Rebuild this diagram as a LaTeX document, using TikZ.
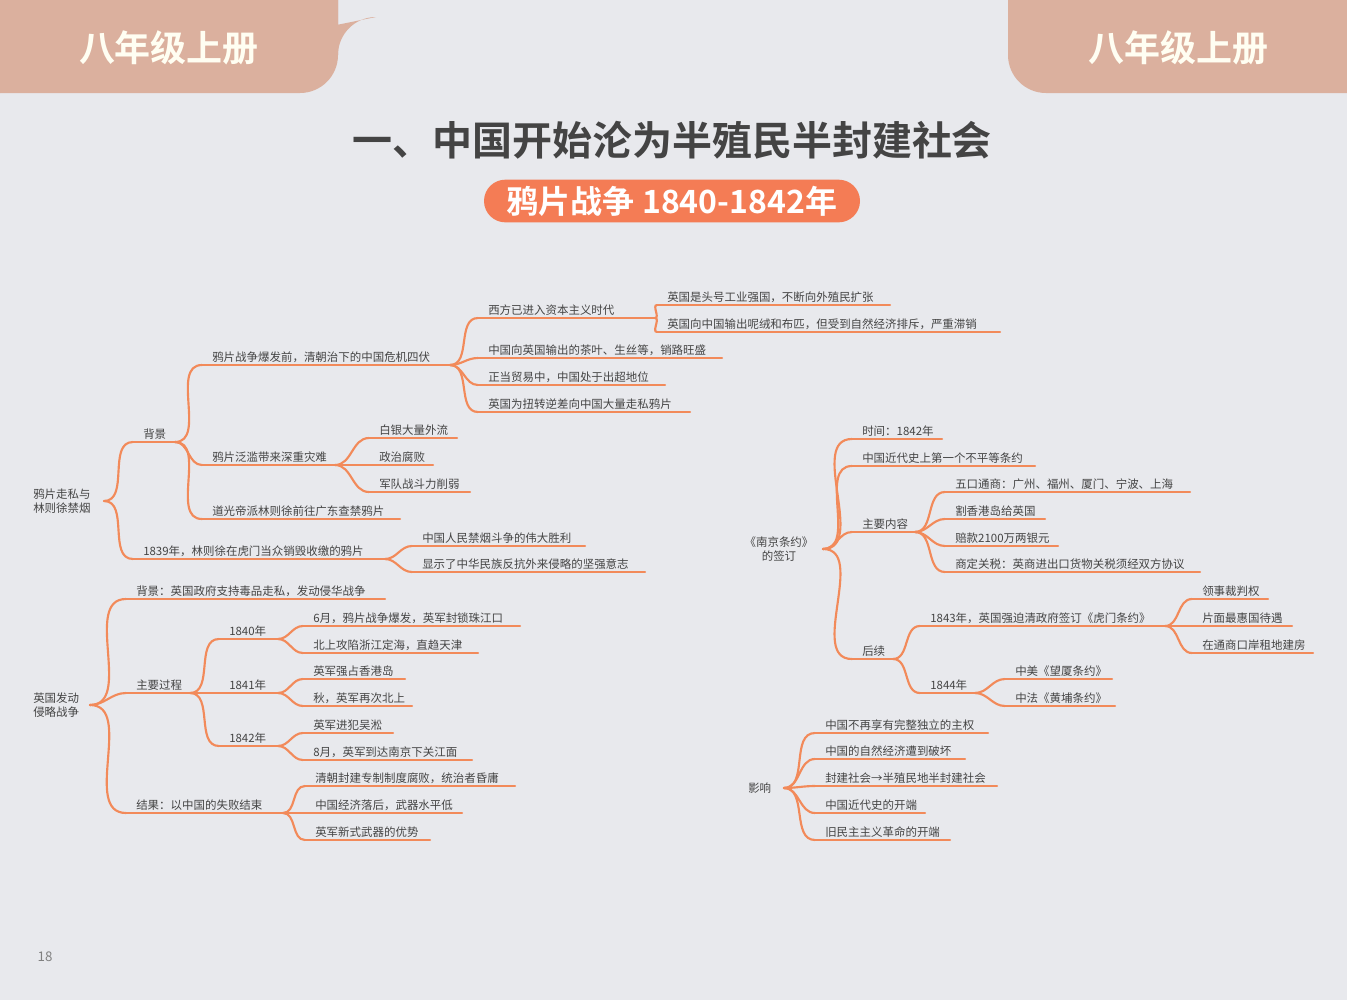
\documentclass[tikz,border=0pt]{standalone}
\usepackage{fontspec}
\setmainfont{Noto Sans CJK SC}[BoldFont={Noto Sans CJK SC Bold}]
\definecolor{bg}{HTML}{E8E9ED}
\definecolor{tab}{HTML}{DBB09E}
\definecolor{ln}{HTML}{F28A5A}
\definecolor{pill}{HTML}{F47C55}
\definecolor{tx}{HTML}{444444}
\newcommand{\br}[4]{%
  \coordinate (#1-s) at ({#2-10},{#3+8});
  \coordinate (#1-e) at (#4,{#3+8});
  \node[lbl] (#1) at (#2,#3) {#4text};
  \draw[ul] (#1-s) -- (#1-e);}
\newcommand{\cn}[2]{\draw[ul] (#1-e) to[out=0,in=180] (#2-s);}
\begin{document}
\begin{tikzpicture}[x=0.75pt,y=-0.75pt,
  lbl/.style={anchor=west,inner sep=0pt,text=tx,font=\fontsize{8.6}{10}\selectfont},
  ul/.style={draw=ln,line width=1.6pt,line cap=round},
  rootlbl/.style={anchor=west,inner sep=0pt,text=tx,align=left,font=\fontsize{8.6}{11}\selectfont}]
\fill[bg] (0,0) rectangle (1347,1000);
\useasboundingbox (0,0) rectangle (1347,1000);
\fill[tab] (0,0) -- (338,0) -- (338,55) arc[start angle=0,end angle=90,radius=-38] -- (0,93) -- cycle;
\fill[tab] (1347,0) -- (1008,0) -- (1008,55) .. controls (1008,76) and (1025,93) .. (1046,93) -- (1347,93) -- cycle;
\fill[tab] (338,0) -- (338,55) .. controls (338,76) and (321,93) .. (300,93) -- (0,93) -- (0,0) -- cycle;
\node[text=white!95!yellow,font=\fontsize{27}{30}\bfseries] (h1) at (169,48) {八年级上册};
\node[text=white!95!yellow,font=\fontsize{27}{30}\bfseries] (h2) at (1178,48) {八年级上册};
\node[text=tx,font=\fontsize{30}{34}\bfseries] (title) at (672,140) {一、中国开始沦为半殖民半封建社会};
\node[fill=pill,rounded corners=16pt,minimum width=282pt,minimum height=32pt,text=white,font=\fontsize{24}{28}\bfseries] (sub) at (672,201) {鸦片战争 1840-1842年};
\node[text=gray,font=\fontsize{10}{12}\selectfont] (pg) at (45,957) {18};
% tree 1
\node[rootlbl] (r1) at (33,501) {鸦片走私与\\林则徐禁烟};
\coordinate (r1-e) at (104,501);
\renewcommand{\br}[5]{%
  \coordinate (#1-s) at ({#2-10},{#3+8});
  \coordinate (#1-e) at (#4,{#3+8});
  \node[lbl] (#1) at (#2,#3) {#5};
  \draw[ul] (#1-s) -- (#1-e);}
\br{a}{143}{434}{175}{背景}
\br{a1}{212}{357}{450}{鸦片战争爆发前，清朝治下的中国危机四伏}
\br{a11}{488}{310}{655}{西方已进入资本主义时代}
\br{a111}{667}{297}{890}{英国是头号工业强国，不断向外殖民扩张}
\br{a112}{667}{324}{1000}{英国向中国输出呢绒和布匹，但受到自然经济排斥，严重滞销}
\br{a12}{488}{350}{722}{中国向英国输出的茶叶、生丝等，销路旺盛}
\br{a13}{488}{377}{665}{正当贸易中，中国处于出超地位}
\br{a14}{488}{404}{690}{英国为扭转逆差向中国大量走私鸦片}
\br{a2}{212}{457}{335}{鸦片泛滥带来深重灾难}
\br{a21}{379}{430}{457}{白银大量外流}
\br{a22}{379}{457}{433}{政治腐败}
\br{a23}{379}{484}{470}{军队战斗力削弱}
\br{a3}{212}{511}{400}{道光帝派林则徐前往广东查禁鸦片}
\br{b}{143}{551}{385}{1839年，林则徐在虎门当众销毁收缴的鸦片}
\br{b1}{422}{538}{585}{中国人民禁烟斗争的伟大胜利}
\br{b2}{422}{564}{645}{显示了中华民族反抗外来侵略的坚强意志}
\cn{r1}{a}\cn{r1}{b}
\cn{a}{a1}\cn{a}{a2}\cn{a}{a3}
\cn{a1}{a11}\cn{a1}{a12}\cn{a1}{a13}\cn{a1}{a14}
\cn{a11}{a111}\cn{a11}{a112}
\cn{a2}{a21}\cn{a2}{a22}\cn{a2}{a23}
\cn{b}{b1}\cn{b}{b2}
% tree 2
\node[rootlbl] (r2) at (33,705) {英国发动\\侵略战争};
\coordinate (r2-e) at (90,705);
\br{c}{136}{591}{385}{背景：英国政府支持毒品走私，发动侵华战争}
\br{d}{136}{685}{190}{主要过程}
\br{d1}{229}{631}{278}{1840年}
\br{d11}{313}{618}{520}{6月，鸦片战争爆发，英军封锁珠江口}
\br{d12}{313}{645}{478}{北上攻陷浙江定海，直趋天津}
\br{d2}{229}{685}{278}{1841年}
\br{d21}{313}{671}{405}{英军强占香港岛}
\br{d22}{313}{698}{412}{秋，英军再次北上}
\br{d3}{229}{738}{278}{1842年}
\br{d31}{313}{725}{393}{英军进犯吴淞}
\br{d32}{313}{752}{472}{8月，英军到达南京下关江面}
\br{e}{136}{805}{283}{结果：以中国的失败结束}
\br{e1}{315}{778}{515}{清朝封建专制制度腐败，统治者昏庸}
\br{e2}{315}{805}{462}{中国经济落后，武器水平低}
\br{e3}{315}{832}{430}{英军新式武器的优势}
\cn{r2}{c}\cn{r2}{d}\cn{r2}{e}
\cn{d}{d1}\cn{d}{d2}\cn{d}{d3}
\cn{d1}{d11}\cn{d1}{d12}\cn{d2}{d21}\cn{d2}{d22}\cn{d3}{d31}\cn{d3}{d32}
\cn{e}{e1}\cn{e}{e2}\cn{e}{e3}
% tree 3
\node[rootlbl,align=center,anchor=center] (r3) at (779,549) {《南京条约》\\的签订};
\coordinate (r3-e) at (823,549);
\br{f}{862}{431}{942}{时间：1842年}
\br{g}{862}{458}{1035}{中国近代史上第一个不平等条约}
\br{h}{862}{524}{915}{主要内容}
\br{h1}{955}{484}{1190}{五口通商：广州、福州、厦门、宁波、上海}
\br{h2}{955}{511}{1045}{割香港岛给英国}
\br{h3}{955}{538}{1058}{赔款2100万两银元}
\br{h4}{955}{564}{1200}{商定关税：英商进出口货物关税须经双方协议}
\br{k}{862}{651}{893}{后续}
\br{k1}{930}{618}{1165}{1843年，英国强迫清政府签订《虎门条约》}
\br{k11}{1202}{591}{1268}{领事裁判权}
\br{k12}{1202}{618}{1292}{片面最惠国待遇}
\br{k13}{1202}{645}{1313}{在通商口岸租地建房}
\br{k2}{930}{685}{975}{1844年}
\br{k21}{1015}{671}{1112}{中美《望厦条约》}
\br{k22}{1015}{698}{1115}{中法《黄埔条约》}
\cn{r3}{f}\cn{r3}{g}\cn{r3}{h}\cn{r3}{k}
\cn{h}{h1}\cn{h}{h2}\cn{h}{h3}\cn{h}{h4}
\cn{k}{k1}\cn{k}{k2}
\cn{k1}{k11}\cn{k1}{k12}\cn{k1}{k13}
\cn{k2}{k21}\cn{k2}{k22}
% tree 4
\node[rootlbl] (r4) at (748,788) {影响};
\coordinate (r4-e) at (784,788);
\br{m1}{825}{725}{988}{中国不再享有完整独立的主权}
\br{m2}{825}{751}{965}{中国的自然经济遭到破坏}
\br{m3}{825}{778}{997}{封建社会→半殖民地半封建社会}
\br{m4}{825}{805}{925}{中国近代史的开端}
\br{m5}{825}{832}{950}{旧民主主义革命的开端}
\cn{r4}{m1}\cn{r4}{m2}\cn{r4}{m3}\cn{r4}{m4}\cn{r4}{m5}
\end{tikzpicture}
\end{document}
